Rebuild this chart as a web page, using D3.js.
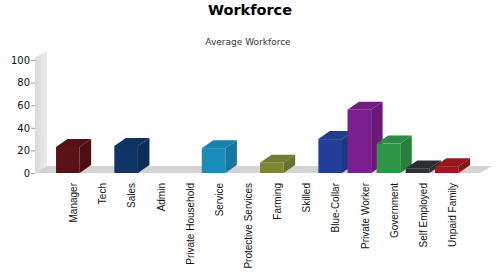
<!DOCTYPE html>
<html>
<head>
<meta charset="utf-8">
<script src="https://cdn.jsdelivr.net/npm/d3@7"></script>
<style>
  html, body { margin: 0; padding: 0; background: #fff; }
  svg { display: block; }
</style>
</head>
<body>
<svg id="chart" width="500" height="280"></svg>
<script>
const categories = ["Manager", "Tech", "Sales", "Admin", "Private Household", "Service",
  "Protective Services", "Farming", "Skilled", "Blue-Collar", "Private Worker",
  "Government", "Self Employed", "Unpaid Family"];
const values = [23, 0, 24, 0, 0, 22, 0, 9, 0, 30, 56, 26, 4, 6];
const yTicks = [0, 20, 40, 60, 80, 100];
const barColors = ["#5c1117", "#777", "#0f3566", "#777", "#777", "#1b8bba", "#777",
  "#7b8532", "#777", "#233f97", "#7b1f8c", "#2f9647", "#2e3138", "#a0181f"];

const svg = d3.select("#chart");
const W = 500, H = 280;

// title
svg.append("text").attr("x", 250).attr("y", 15).attr("text-anchor", "middle")
  .attr("font-family", "DejaVu Sans").attr("font-weight", "bold").attr("font-size", 14.5)
  .attr("fill", "#000").text("Workforce");
svg.append("text").attr("x", 248).attr("y", 45).attr("text-anchor", "middle")
  .attr("font-family", "DejaVu Sans").attr("font-size", 9)
  .attr("fill", "#333").text("Average Workforce");

const y = d3.scaleLinear().domain([0, 100]).range([173, 60]);
const x = d3.scaleBand().domain(categories).range([50.2, 464.4])
  .paddingInner(0.19).paddingOuter(0.2);

const wx0 = 35, wdx = 12, wdy = -7;
const y0 = y(0);

// back wall gradient
const defs = svg.append("defs");
const wg = defs.append("linearGradient").attr("id", "wallg")
  .attr("x1", "0").attr("x2", "1").attr("y1", "0").attr("y2", "0");
wg.append("stop").attr("offset", "0").attr("stop-color", "#d9d9d9");
wg.append("stop").attr("offset", "1").attr("stop-color", "#ececec");

const yTop = y(102);
svg.append("polygon")
  .attr("points", [[wx0, y0], [wx0, yTop], [wx0 + wdx, yTop + wdy], [wx0 + wdx, y0 + wdy]].join(" "))
  .attr("fill", "url(#wallg)");

// floor
svg.append("polygon")
  .attr("points", [[wx0, y0], [wx0 + wdx, y0 + wdy], [492, y0 + wdy], [480, y0]].join(" "))
  .attr("fill", "#d3d3d3");

// y axis
const axis = svg.append("g").attr("transform", `translate(${wx0},0)`)
  .call(d3.axisLeft(y).tickValues(yTicks).tickSize(4).tickPadding(1));
axis.select(".domain").remove();
axis.selectAll(".tick line").attr("stroke", "#999");
axis.selectAll(".tick text").attr("font-family", "DejaVu Sans").attr("font-size", 10).attr("fill", "#111");

// bars
const bdx = 11.5, bdy = -8;
const bw = x.bandwidth();
const g = svg.append("g");
categories.forEach((c, i) => {
  const v = values[i];
  if (v <= 0) return;
  const bx = x(c), by = y(v);
  const col = d3.color(barColors[i]);
  // side
  g.append("polygon")
    .attr("points", [[bx + bw, by], [bx + bw + bdx, by + bdy], [bx + bw + bdx, y0 + bdy], [bx + bw, y0]].join(" "))
    .attr("fill", col.darker(0.45));
  // top
  g.append("polygon")
    .attr("points", [[bx, by], [bx + bdx, by + bdy], [bx + bw + bdx, by + bdy], [bx + bw, by]].join(" "))
    .attr("fill", col.darker(0.2));
  // front
  g.append("rect").attr("x", bx).attr("y", by).attr("width", bw).attr("height", y0 - by)
    .attr("fill", col);
});

// category labels
svg.append("g").selectAll("text").data(categories).join("text")
  .attr("transform", d => `translate(${x(d) + bw / 2 + bdx / 2},183) rotate(-90)`)
  .attr("text-anchor", "end").attr("dy", "0.35em")
  .attr("font-family", "Liberation Sans").attr("font-size", 10)
  .attr("fill", "#111").text(d => d);
</script>
</body>
</html>
